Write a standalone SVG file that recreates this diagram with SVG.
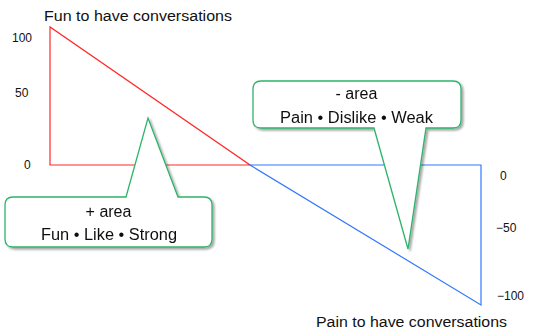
<svg xmlns="http://www.w3.org/2000/svg" width="539" height="332" viewBox="0 0 539 332">
  <style>
    text { font-family: "Liberation Sans", Arial, sans-serif; fill: #111; }
    .title { font-size: 15.5px; }
    .tick { font-size: 12px; }
    .call { font-size: 16px; text-anchor: middle; }
    .callout { fill: #fff; stroke: #2fb36a; stroke-width: 1.3; stroke-linejoin: miter; }
  </style>
  <defs>
    <filter id="shadow" x="-10%" y="-10%" width="130%" height="130%">
      <feGaussianBlur in="SourceAlpha" stdDeviation="1.2"/>
      <feOffset dx="2" dy="2" result="b"/>
      <feComponentTransfer><feFuncA type="linear" slope="0.35"/></feComponentTransfer>
      <feMerge><feMergeNode/><feMergeNode in="SourceGraphic"/></feMerge>
    </filter>
  </defs>
  <rect width="539" height="332" fill="#fff"/>

  <g id="connectors" fill="none" stroke-width="1.2">
    <!-- positive triangle -->
    <polygon points="50,27 50,165 250,165" stroke="#ff2a2a"/>
    <!-- negative triangle -->
    <polygon points="250,165 481,165 481,305" stroke="#3377ff"/>
  </g>

  <g id="axis-labels">
    <text class="title" x="44" y="21" textLength="188" lengthAdjust="spacingAndGlyphs">Fun to have conversations</text>
    <text class="title" x="316" y="327" textLength="191" lengthAdjust="spacingAndGlyphs">Pain to have conversations</text>
    <text class="tick" x="12" y="42">100</text>
    <text class="tick" x="15" y="97">50</text>
    <text class="tick" x="24" y="169">0</text>
    <text class="tick" x="500" y="180">0</text>
    <text class="tick" x="496" y="232">−50</text>
    <text class="tick" x="497" y="300">−100</text>
  </g>

  <g id="plus-area" filter="url(#shadow)">
    <path class="callout" d="M13,197 L126,197 L148,118 L178,197 L204,197 Q212,197 212,205 L212,239 Q212,247 204,247 L13,247 Q5,247 5,239 L5,205 Q5,197 13,197 Z"/>
    <text class="call" x="108.5" y="217">+ area</text>
    <text class="call" x="109" y="240" textLength="136" lengthAdjust="spacingAndGlyphs">Fun • Like • Strong</text>
  </g>

  <g id="minus-area" filter="url(#shadow)">
    <path class="callout" d="M261,81 L453,81 Q461,81 461,89 L461,120 Q461,128 453,128 L426,128 L408,249 L374,128 L261,128 Q253,128 253,120 L253,89 Q253,81 261,81 Z"/>
    <text class="call" x="356.5" y="99">- area</text>
    <text class="call" x="356.5" y="123" textLength="153" lengthAdjust="spacingAndGlyphs">Pain • Dislike • Weak</text>
  </g>
</svg>
